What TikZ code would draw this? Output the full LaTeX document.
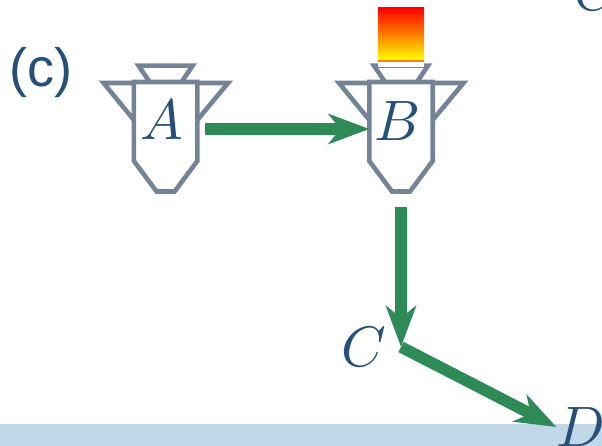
\documentclass[tikz,border=0pt]{standalone}
\usepackage{fontspec}
\setsansfont{Liberation Sans}
\usepackage{graphicx}
\usepackage{tikz}
\usetikzlibrary{positioning,arrows.meta}

\definecolor{inkblue}{RGB}{38,80,120}
\definecolor{silogrey}{RGB}{116,132,150}
\definecolor{flowgreen}{RGB}{46,139,87}
\definecolor{seablue}{RGB}{192,215,234}

\newcommand{\bigmath}[1]{\scalebox{5.7}{$#1$}}

\tikzset{
    tag/.style={inner sep=0pt, text=inkblue},
    flow/.style={draw=flowgreen, line width=11.5pt, -{Stealth[length=41pt, width=30pt, inset=12pt]}},
    pics/silo/.style={code={
        \draw[silogrey, line width=4.6pt] (-31.7,0) -- (31.7,0) -- (31.7,79) -- (9,109.5) -- (-9,109.5) -- (-31.7,79) -- cycle;
        \draw[silogrey, line width=4.6pt] (-16,0) -- (-27,-16.3) -- (27,-16.3) -- (16,0);
        \draw[silogrey, line width=4.6pt] (-31.7,38) -- (-62,1) -- (-31.7,1);
        \draw[silogrey, line width=4.6pt] (31.7,38) -- (62.5,1) -- (31.7,1);
        \coordinate (-out) at (39.5,47);
        \coordinate (-in) at (-31.5,47);
        \coordinate (-down) at (0,125);
    }}
}

\begin{document}
\begin{tikzpicture}[x=1pt, y=-1pt]
\useasboundingbox (0,0) rectangle (602,446);
\clip (0,0) rectangle (602,446);

\fill[seablue] (0,424) rectangle (602,446);

\node[inner sep=0pt, text=inkblue, font=\sffamily\fontsize{54}{60}\selectfont, anchor=base] (panel) at (41,87) {(c)};

\coordinate (topA) at (165.6,82);
\coordinate[right=235.4pt of topA] (topB);
\pic (siloA) at (topA) {silo};
\pic (siloB) at (topB) {silo};

% heater on top of B
\fill[white] (378,60) rectangle (424,67.5);
\shade[top color=red, bottom color=yellow] (378,8) rectangle (424,60.5);
\fill[orange] (378,60.5) rectangle (424,62);

\node[tag] (labelA) at (162,120) {\bigmath{A}};
\node[tag] (labelB) at (397.5,121) {\bigmath{B}};
\node[tag] (labelC) at (364,347) {\bigmath{C}};
\node[tag] (labelD) at (581,427) {\bigmath{D}};
\node[tag] (labelE) at (597,-9) {\bigmath{C}};

\coordinate (turn) at (siloB-down |- labelC);

\draw[flow] (siloA-out) -- (siloB-in);
\draw[flow] (siloB-down) -- (turn);
\draw[flow] (turn) -- (labelD.west);
\end{tikzpicture}
\end{document}
